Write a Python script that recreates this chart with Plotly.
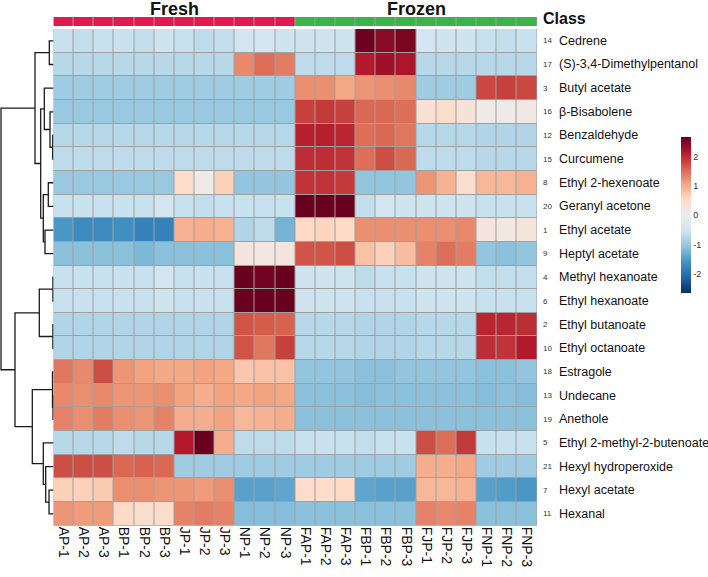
import plotly.graph_objects as go

# ---------------- data ----------------
samples = ["AP-1", "AP-2", "AP-3", "BP-1", "BP-2", "BP-3", "JP-1", "JP-2", "JP-3",
           "NP-1", "NP-2", "NP-3", "FAP-1", "FAP-2", "FAP-3", "FBP-1", "FBP-2", "FBP-3",
           "FJP-1", "FJP-2", "FJP-3", "FNP-1", "FNP-2", "FNP-3"]
sample_class = ["Fresh", "Fresh", "Fresh", "Fresh", "Fresh", "Fresh", "Fresh", "Fresh",
                "Fresh", "Fresh", "Fresh", "Fresh", "Frozen", "Frozen", "Frozen", "Frozen",
                "Frozen", "Frozen", "Frozen", "Frozen", "Frozen", "Frozen", "Frozen", "Frozen"]
class_names = ["Fresh", "Frozen"]
compound_ids = [14, 17, 3, 16, 12, 15, 8, 20, 1, 9, 4, 6, 2, 10, 18, 13, 19, 5, 21, 7, 11]
compounds = ["Cedrene", "(S)-3,4-Dimethylpentanol", "Butyl acetate", "β-Bisabolene",
             "Benzaldehyde", "Curcumene", "Ethyl 2-hexenoate", "Geranyl acetone",
             "Ethyl acetate", "Heptyl acetate", "Methyl hexanoate", "Ethyl hexanoate",
             "Ethyl butanoate", "Ethyl octanoate", "Estragole", "Undecane", "Anethole",
             "Ethyl 2-methyl-2-butenoate", "Hexyl hydroperoxide", "Hexyl acetate", "Hexanal"]
colorbar_ticks = [-2, -1, 0, 1, 2]
colorbar_ticktext = ["-2", "-1", "0", "1", "2"]

# row z-scores (rows in displayed order, columns as in `samples`)
zscores = [
    [-0.6, -0.65, -0.6, -0.6, -0.65, -0.55, -0.6, -0.7, -0.65, -0.5, -0.5, -0.55, -0.55, -0.55, -0.55, 2.65, 2.45, 2.55, -0.5, -0.55, -0.55, -0.6, -0.65, -0.6],
    [-0.75, -0.75, -0.75, -0.75, -0.75, -0.75, -0.75, -0.75, -0.75, 1.3, 1.5, 1.4, -0.7, -0.7, -0.7, 2.15, 2.3, 2.2, -0.75, -0.75, -0.75, -0.75, -0.75, -0.75],
    [-0.95, -0.95, -0.95, -0.95, -0.95, -0.95, -0.95, -0.95, -0.95, -0.95, -0.95, -0.95, 1.25, 1.25, 1.05, 1.2, 1.25, 1.3, -0.95, -0.95, -0.95, 1.8, 1.85, 1.8],
    [-1.0, -1.0, -1.0, -1.0, -1.0, -1.0, -1.0, -1.0, -1.0, -1.0, -1.0, -1.0, 1.85, 1.9, 1.85, 1.55, 1.55, 1.5, 0.35, 0.45, 0.3, 0.05, 0.05, 0.1],
    [-0.75, -0.75, -0.75, -0.75, -0.75, -0.75, -0.75, -0.75, -0.75, -0.75, -0.75, -0.75, 2.1, 2.1, 2.05, 1.5, 1.55, 1.45, -0.75, -0.75, -0.75, -0.8, -0.8, -0.8],
    [-0.7, -0.7, -0.7, -0.7, -0.7, -0.7, -0.7, -0.7, -0.7, -0.7, -0.7, -0.7, 2.0, 2.0, 1.95, 1.5, 1.75, 1.55, -0.7, -0.7, -0.7, -0.75, -0.75, -0.75],
    [-1.0, -1.0, -1.0, -1.0, -1.0, -1.0, 0.5, 0.05, 0.65, -1.05, -1.05, -1.05, 1.95, 1.95, 1.9, -1.05, -1.05, -1.05, 1.2, 0.95, 0.45, 0.9, 0.9, 0.95],
    [-0.6, -0.6, -0.6, -0.6, -0.6, -0.5, -0.6, -0.65, -0.6, -0.6, -0.6, -0.6, 2.67, 2.67, 2.67, -0.65, -0.5, -0.55, -0.55, -0.55, -0.55, -0.6, -0.6, -0.6],
    [-1.55, -1.7, -1.7, -1.65, -1.8, -1.8, 0.95, 1.0, 0.95, -0.8, -0.7, -1.25, 0.55, 0.6, 0.55, 1.25, 1.25, 1.25, 1.25, 1.25, 1.3, 0.2, 0.15, 0.25],
    [-1.1, -1.1, -1.1, -1.1, -1.2, -1.1, -1.1, -1.1, -1.1, 0.2, 0.15, 0.2, 1.7, 1.7, 1.75, 0.8, 0.65, 0.85, 1.35, 1.5, 1.4, -1.05, -1.1, -1.05],
    [-0.6, -0.6, -0.6, -0.6, -0.6, -0.5, -0.6, -0.6, -0.6, 2.67, 2.6, 2.67, -0.55, -0.55, -0.55, -0.7, -0.6, -0.6, -0.55, -0.55, -0.55, -0.65, -0.65, -0.65],
    [-0.6, -0.6, -0.6, -0.6, -0.6, -0.55, -0.6, -0.6, -0.6, 2.67, 2.67, 2.67, -0.55, -0.55, -0.55, -0.6, -0.6, -0.6, -0.55, -0.55, -0.55, -0.6, -0.6, -0.6],
    [-0.8, -0.8, -0.8, -0.8, -0.8, -0.8, -0.8, -0.8, -0.8, 1.7, 1.65, 1.6, -0.75, -0.75, -0.75, -0.8, -0.8, -0.8, -0.75, -0.75, -0.75, 2.05, 2.05, 2.0],
    [-0.8, -0.8, -0.8, -0.8, -0.8, -0.8, -0.8, -0.8, -0.8, 1.7, 1.45, 1.85, -0.75, -0.75, -0.75, -0.8, -0.8, -0.8, -0.75, -0.75, -0.75, 2.0, 1.95, 2.15],
    [1.45, 1.3, 1.75, 1.2, 1.1, 1.05, 1.05, 1.1, 1.05, 0.75, 0.8, 0.8, -1.05, -1.05, -1.05, -1.1, -1.1, -1.05, -1.05, -1.05, -1.05, -1.1, -1.1, -1.05],
    [1.3, 1.25, 1.3, 1.2, 1.2, 1.25, 1.1, 1.0, 1.1, 1.05, 1.1, 1.05, -1.1, -1.1, -1.1, -1.15, -1.1, -1.1, -1.1, -1.1, -1.1, -1.15, -1.1, -1.15],
    [1.35, 1.25, 1.4, 1.25, 1.2, 1.35, 1.0, 1.0, 1.1, 0.9, 0.95, 1.0, -1.1, -1.1, -1.1, -1.1, -1.1, -1.1, -1.1, -1.1, -1.1, -1.1, -1.1, -1.1],
    [-0.75, -0.75, -0.75, -0.7, -0.75, -0.75, 2.15, 2.67, 1.0, -0.7, -0.7, -0.7, -0.6, -0.6, -0.6, -0.65, -0.6, -0.6, 1.75, 1.5, 1.9, -0.6, -0.6, -0.6],
    [1.75, 1.75, 1.75, 1.55, 1.6, 1.55, -0.95, -0.95, -0.95, -0.95, -0.95, -0.95, -0.95, -0.95, -0.95, -0.95, -0.95, -0.95, 1.0, 1.0, 1.05, -0.95, -0.95, -0.95],
    [0.65, 0.65, 0.7, 1.25, 1.25, 1.2, 1.2, 1.15, 1.25, -1.45, -1.45, -1.4, 0.5, 0.5, 0.55, -1.4, -1.45, -1.45, 0.9, 0.9, 0.95, -1.45, -1.5, -1.55],
    [1.2, 1.15, 1.15, 0.55, 0.45, 0.5, 1.35, 1.4, 1.35, -1.15, -1.15, -1.15, -1.1, -1.1, -1.1, -1.1, -1.1, -1.1, 1.35, 1.3, 1.35, -1.1, -1.1, -1.1],
]

# row dendrogram: (child_a, child_b, merge height); leaves 0..20, merges numbered from 21
row_merges = [
    (4, 5, 0.8), (0, 1, 4.2), (3, 21, 3.5), (2, 23, 9.2), (6, 7, 5.2), (8, 9, 8.5),
    (25, 26, 10.2), (24, 27, 12.8), (22, 28, 18.5), (10, 11, 0.6), (12, 13, 0.6),
    (30, 31, 14.2), (15, 16, 0.5), (14, 33, 1.0), (19, 20, 4.5), (18, 35, 7.8),
    (17, 36, 10.2), (34, 37, 21.2), (32, 38, 38.5), (29, 39, 52.5),
]

# ---------------- geometry ----------------
W, H = 708, 577
hm_left, hm_right = 53.5, 537.0
hm_top, hm_bottom = 29.0, 525.7
cb_top, cb_bottom = 17.0, 26.0

n_rows, n_cols = len(compounds), len(samples)

rdbu = ["#053061", "#2166AC", "#4393C3", "#92C5DE", "#D1E5F0", "#EEEBEA",
        "#FDDBC7", "#F4A582", "#D6604D", "#B2182B", "#67001F"]
colorscale = [[i / (len(rdbu) - 1), c] for i, c in enumerate(rdbu)]

fig = go.Figure()

# class bar
class_codes = [class_names.index(c) for c in sample_class]
fig.add_trace(go.Heatmap(
    z=[class_codes], x=list(range(n_cols)), y=[0],
    colorscale=[[0, "#E2184E"], [0.5, "#E2184E"], [0.5, "#3CB44A"], [1, "#3CB44A"]],
    zmin=0, zmax=1, showscale=False, xgap=1, ygap=0,
    xaxis="x", yaxis="y2", hoverinfo="skip",
))

# main heatmap
fig.add_trace(go.Heatmap(
    z=zscores, x=list(range(n_cols)), y=list(range(n_rows)),
    colorscale=colorscale, zmin=-2.67, zmax=2.69, xgap=1, ygap=1,
    xaxis="x", yaxis="y",
    colorbar=dict(
        x=681 / W, xanchor="left", y=1 - ((137 + 293) / 2) / H, yanchor="middle",
        len=156, lenmode="pixels", thickness=10, thicknessmode="pixels",
        outlinewidth=0, ticks="", tickvals=colorbar_ticks, ticktext=colorbar_ticktext,
        tickfont=dict(size=9, color="#333333", family="Arial, Liberation Sans"),
        xpad=0, ypad=0,
    ),
))

# dendrogram computed from the merge list
pos = {i: float(i) for i in range(n_rows)}
hgt = {i: 0.0 for i in range(n_rows)}
dx, dy = [], []
for k, (a, b, h) in enumerate(row_merges):
    nid = n_rows + k
    ya, yb = pos[a], pos[b]
    dx += [hgt[a], h, h, hgt[b], None]
    dy += [ya, ya, yb, yb, None]
    pos[nid] = (ya + yb) / 2
    hgt[nid] = h
fig.add_trace(go.Scatter(
    x=dx, y=dy, mode="lines", line=dict(color="#1a1a1a", width=1.3),
    xaxis="x3", yaxis="y", hoverinfo="skip", showlegend=False,
))

# grey cell borders behind heatmaps
fig.add_shape(type="rect", xref="x", yref="y", x0=-0.53, x1=n_cols - 0.47,
              y0=-0.53, y1=n_rows - 0.47, fillcolor="#A0A0A0", line_width=0, layer="below")
fig.add_shape(type="rect", xref="x", yref="y2", x0=-0.53, x1=n_cols - 0.47,
              y0=-0.6, y1=0.6, fillcolor="#A0A0A0", line_width=0, layer="below")

font_main = "Arial, Liberation Sans"
ann = []
for i, (cid, name) in enumerate(zip(compound_ids, compounds)):
    ann.append(dict(x=541 / W, y=i, xref="paper", yref="y", text=str(cid), showarrow=False,
                    xanchor="left", yanchor="middle", font=dict(size=8, color="#333333", family=font_main)))
    ann.append(dict(x=557 / W, y=i, xref="paper", yref="y", text=name, showarrow=False,
                    xanchor="left", yanchor="middle", font=dict(size=12.5, color="#111111", family=font_main)))

# class group titles
for cname in class_names:
    idx = [j for j, c in enumerate(sample_class) if c == cname]
    ann.append(dict(x=(idx[0] + idx[-1]) / 2, y=1 - 9 / H, xref="x", yref="paper", text="<b>%s</b>" % cname,
                    showarrow=False, xanchor="center", yanchor="middle",
                    font=dict(size=18, color="#111111", family=font_main)))
ann.append(dict(x=541 / W, y=1 - 19 / H, xref="paper", yref="paper", text="<b>Class</b>",
                showarrow=False, xanchor="left", yanchor="middle",
                font=dict(size=16, color="#111111", family=font_main)))

fig.update_layout(
    width=W, height=H, autosize=False,
    margin=dict(l=0, r=0, t=0, b=0),
    paper_bgcolor="white", plot_bgcolor="white",
    showlegend=False,
    font=dict(family=font_main),
    annotations=ann,
    xaxis=dict(domain=[hm_left / W, hm_right / W], range=[-0.5, n_cols - 0.5],
               tickvals=list(range(n_cols)), ticktext=samples, tickangle=90,
               tickfont=dict(size=14, color="#111111", family=font_main),
               showgrid=False, zeroline=False, showline=False, ticks="", automargin=False,
               anchor="y"),
    yaxis=dict(domain=[1 - hm_bottom / H, 1 - hm_top / H], range=[n_rows - 0.5, -0.5],
               showticklabels=False, showgrid=False, zeroline=False, ticks="", anchor="x"),
    yaxis2=dict(domain=[1 - cb_bottom / H, 1 - cb_top / H], range=[-0.5, 0.5],
                showticklabels=False, showgrid=False, zeroline=False, ticks="", anchor="x"),
    xaxis3=dict(domain=[0, hm_left / W], range=[hm_left, 0], showticklabels=False,
                showgrid=False, zeroline=False, ticks="", anchor="y"),
)

fig.write_html("out.html", config={"displayModeBar": False},
               post_script="document.body.style.margin='0';document.body.style.overflow='hidden';")
